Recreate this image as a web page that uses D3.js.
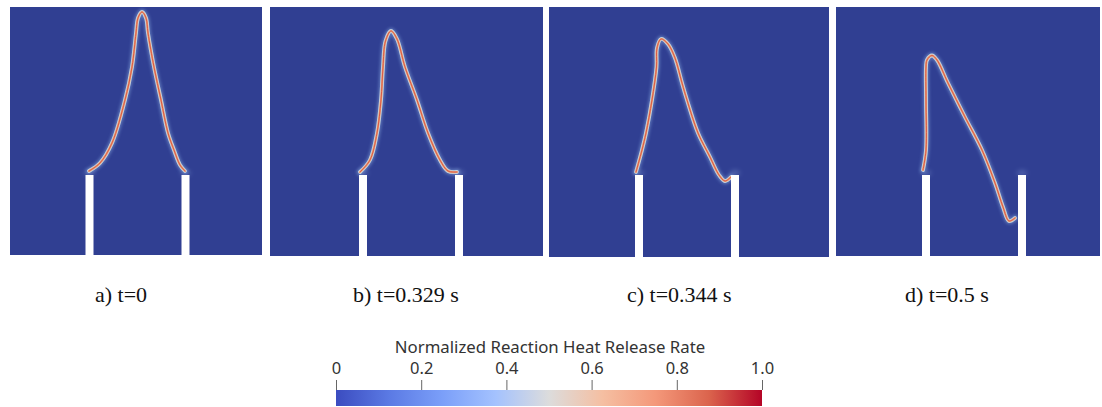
<!DOCTYPE html>
<html><head><meta charset="utf-8">
<script src="https://cdn.jsdelivr.net/npm/d3@7/dist/d3.min.js"></script>
<style>body{margin:0;background:#fff}svg{display:block}</style>
</head><body>
<svg id="c" width="1102" height="407"></svg>
<script>
// ---- data ----
const captions = ["a) t=0", "b) t=0.329 s", "c) t=0.344 s", "d) t=0.5 s"];
// domain extents of each snapshot (x relative to burner axis, y relative to rim top)
const xExtents = [[-127.5,124.5],[-141,132],[-138,142],[-138,126]];
const yExtents = [[-80,168],[-81,168],[-82,168],[-81,168]];
// flame front (max heat release) for each snapshot: [x, y]
const flame0 = [[-48.5,4],[-37.5,12],[-25.5,32],[-12.5,75],[-5.5,108],[-1.5,142],[0.5,157],[4.5,163],[8.5,157],[10.5,142],[16.5,108],[23.5,75],[30.5,42],[36.5,25],[42.5,10],[47.5,4]];
const flame1 = [[-51,3],[-41,15],[-34,42],[-30,75],[-28,108],[-25.5,134],[-20,144],[-14,136],[-6,108],[6,75],[17,42],[29,15],[37,4],[46,3]];
const flame2 = [[-51,3],[-45,25],[-41,42],[-35,75],[-30.5,108],[-30,127],[-26,136],[-19,131],[-12,117],[-5,92],[0,75],[11,42],[23,18],[32,0],[38,-6],[44,-2]];
const flame3 = [[-51,5],[-48,25],[-48,75],[-48,108],[-47,115],[-42,119.5],[-37,115],[-26,92],[-9,58],[8,25],[21,-8],[29,-32],[35,-46],[41,-43]];
const flames = [flame0, flame1, flame2, flame3];
// burner rims (x ranges)
const walls = [[-52,-44],[44,52]];
// colour bar
const cbTicks = [0, 0.2, 0.4, 0.6, 0.8, 1.0];
const cbTickLabels = ["0", "0.2", "0.4", "0.6", "0.8", "1.0"];
const cbStops = [0, 0.125, 0.25, 0.375, 0.5, 0.625, 0.75, 0.875, 1];
const cbColors = ["#3b4cc0","#5b7ae4","#7b9ff9","#a4c2fe","#dcdcdc","#f5bfa2","#f4987a","#db644d","#b40426"];
const cbTitle = "Normalized Reaction Heat Release Rate";

// ---- layout ----
const panelBoxes = [[10,262,7,255],[270,543,7,256],[549,829,7,257],[836,1100,7,256]];
const captionX = [95, 353, 627, 905];
const svg = d3.select("#c");
const defs = svg.append("defs");
const f = defs.append("filter").attr("id","glow").attr("x","-20%").attr("y","-20%").attr("width","140%").attr("height","140%");
f.append("feGaussianBlur").attr("stdDeviation",1.4);
const f2 = defs.append("filter").attr("id","blob").attr("x","-100%").attr("y","-100%").attr("width","300%").attr("height","300%");
f2.append("feGaussianBlur").attr("stdDeviation",2.5);

const bg = "#303f92";
flames.forEach((pts, i) => {
  const [l, r, t, b] = panelBoxes[i];
  const x = d3.scaleLinear().domain(xExtents[i]).range([l, r]);
  const y = d3.scaleLinear().domain(yExtents[i]).range([b, t]);
  const g = svg.append("g");
  const cid = "clip" + i;
  defs.append("clipPath").attr("id", cid).append("rect")
    .attr("x", l).attr("y", t).attr("width", r - l).attr("height", b - t);
  g.attr("clip-path", `url(#${cid})`);
  g.append("rect").attr("x", l).attr("y", t).attr("width", r - l).attr("height", b - t).attr("fill", bg);
  walls.forEach(w => {
    g.append("ellipse").attr("cx", x((w[0]+w[1])/2)).attr("cy", y(2)).attr("rx", 5).attr("ry", 2.5)
      .attr("fill", "#9fb8e8").attr("opacity", 0.35).attr("filter", "url(#blob)");
  });
  const line = d3.line().x(d => x(d[0])).y(d => y(d[1])).curve(d3.curveCatmullRom.alpha(0.5));
  const dpath = line(pts);
  g.append("path").attr("d", dpath).attr("fill","none").attr("stroke","#7f9fd8").attr("stroke-width",6.5).attr("opacity",0.55).attr("filter","url(#glow)").attr("stroke-linecap","round");
  g.append("path").attr("d", dpath).attr("fill","none").attr("stroke","#c9d3dc").attr("stroke-width",3.8).attr("stroke-linecap","round");
  g.append("path").attr("d", dpath).attr("fill","none").attr("stroke","#e9a07a").attr("stroke-width",2.1).attr("stroke-linecap","round");
  g.append("path").attr("d", dpath).attr("fill","none").attr("stroke","#d8513f").attr("stroke-width",0.9).attr("stroke-linecap","round");
  walls.forEach(w => {
    g.append("rect").attr("x", x(w[0])).attr("width", x(w[1]) - x(w[0]))
      .attr("y", y(0)).attr("height", b - y(0) + 2).attr("fill", "#ffffff");
  });
  svg.append("text").attr("x", captionX[i]).attr("y", 302)
    .attr("font-family", "'Liberation Serif','Times New Roman',serif").attr("font-size", 22)
    .attr("fill", "#111").text(captions[i]);
});

// colour bar
const cbX = d3.scaleLinear().domain([0, 1]).range([336, 762]);
const grad = defs.append("linearGradient").attr("id","cb").attr("x1","0%").attr("x2","100%");
cbStops.forEach((s, k) => grad.append("stop").attr("offset", s*100 + "%").attr("stop-color", cbColors[k]));
svg.append("rect").attr("x", cbX(0)).attr("y", 390).attr("width", cbX(1) - cbX(0)).attr("height", 16).attr("fill", "url(#cb)");
const ax = d3.axisTop(cbX).tickValues(cbTicks).tickSize(10).tickPadding(6).tickFormat((d, k) => cbTickLabels[k]);
const axg = svg.append("g").attr("transform", "translate(0,390)").call(ax);
axg.select(".domain").remove();
axg.selectAll("line").attr("stroke", "#666");
axg.selectAll("text").attr("font-family", "'Noto Sans',sans-serif").attr("font-size", 16.5).attr("fill", "#333");
svg.append("text").attr("x", 550).attr("y", 353).attr("text-anchor", "middle")
  .attr("font-family", "'Noto Sans',sans-serif").attr("font-size", 16.8).attr("fill", "#333").text(cbTitle);
</script>
</body></html>
